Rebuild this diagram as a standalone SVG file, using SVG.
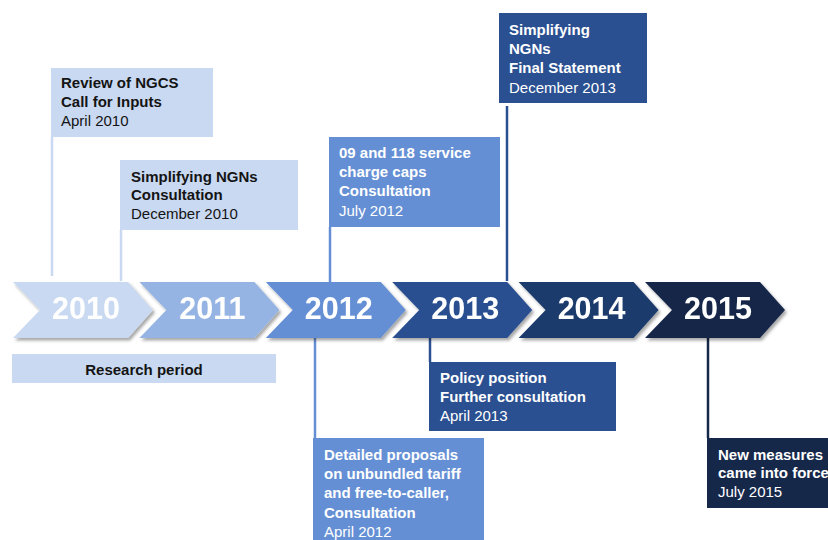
<svg xmlns="http://www.w3.org/2000/svg" xmlns:xlink="http://www.w3.org/1999/xlink" width="828" height="540" viewBox="0 0 828 540">
<style>
  text { font-family: "Liberation Sans", Arial, sans-serif; font-size: 15px; letter-spacing: 0; }
  .b { font-weight: bold; }
  .dk { fill: #141414; }
  .wt { fill: #ffffff; }
  .yr { font-size: 30.5px; font-weight: bold; fill: #ffffff; text-anchor: middle; }
  .c1 { fill: #C9D9F1; }
  .c2 { fill: #95B4E3; }
  .c3 { fill: #658FD4; }
  .c4 { fill: #2A5091; }
  .c5 { fill: #1E3B6D; }
  .c6 { fill: #16284A; }
  .ln { fill: none; stroke-width: 2.5; }
</style>
<defs>
  <path id="chev" d="M0,282 L115,282 L140,310 L115,338 L0,338 L27,310 Z"/>
  <filter id="sh" x="-10%" y="-20%" width="130%" height="150%">
    <feDropShadow dx="2" dy="2.5" stdDeviation="1.5" flood-color="#000" flood-opacity="0.35"/>
  </filter>
</defs>
<rect width="828" height="540" fill="#ffffff"/>

<g id="connectors">
  <line class="ln" x1="52" y1="137" x2="52" y2="276" stroke="#C9D9F1"/>
  <line class="ln" x1="121" y1="230" x2="121" y2="281" stroke="#C9D9F1"/>
  <line class="ln" x1="330" y1="227" x2="330" y2="282" stroke="#658FD4"/>
  <line class="ln" x1="507" y1="106" x2="507" y2="281" stroke="#2A5091"/>
  <line class="ln" x1="430" y1="338" x2="430" y2="362" stroke="#2A5091"/>
  <line class="ln" x1="315" y1="338" x2="315" y2="438" stroke="#658FD4"/>
  <line class="ln" x1="708" y1="338" x2="708" y2="438" stroke="#16284A"/>
</g>

<g id="timeline" filter="url(#sh)">
  <g id="y2010"><use xlink:href="#chev" x="13" class="c1"/><text class="yr" x="86" y="319">2010</text></g>
  <g id="y2011"><use xlink:href="#chev" x="139.4" class="c2"/><text class="yr" x="212.4" y="319">2011</text></g>
  <g id="y2012"><use xlink:href="#chev" x="265.8" class="c3"/><text class="yr" x="338.8" y="319">2012</text></g>
  <g id="y2013"><use xlink:href="#chev" x="392.2" class="c4"/><text class="yr" x="465.2" y="319">2013</text></g>
  <g id="y2014"><use xlink:href="#chev" x="518.6" class="c5"/><text class="yr" x="591.6" y="319">2014</text></g>
  <g id="y2015"><use xlink:href="#chev" x="645" class="c6"/><text class="yr" x="718" y="319">2015</text></g>
</g>

<g id="research">
  <rect class="c1" x="12" y="354" width="264" height="29"/>
  <text class="b dk" x="144" y="375" text-anchor="middle">Research period</text>
</g>

<g id="n1">
  <rect class="c1" x="51" y="68" width="162" height="69"/>
  <text class="dk" x="61" y="88"><tspan class="b">Review of NGCS</tspan><tspan class="b" x="61" y="107">Call for Inputs</tspan><tspan x="61" y="126">April 2010</tspan></text>
</g>

<g id="n2">
  <rect class="c1" x="120" y="160" width="178" height="70"/>
  <text class="dk" x="131" y="182"><tspan class="b">Simplifying NGNs</tspan><tspan class="b" x="131" y="200">Consultation</tspan><tspan x="131" y="219">December 2010</tspan></text>
</g>

<g id="n3">
  <rect class="c3" x="329" y="137" width="171" height="90"/>
  <text class="wt" x="339" y="158"><tspan class="b">09 and 118 service</tspan><tspan class="b" x="339" y="177">charge caps</tspan><tspan class="b" x="339" y="196">Consultation</tspan><tspan x="339" y="216">July 2012</tspan></text>
</g>

<g id="n4">
  <rect class="c4" x="499" y="13" width="148" height="90"/>
  <text class="wt" x="509" y="35"><tspan class="b">Simplifying</tspan><tspan class="b" x="509" y="54">NGNs</tspan><tspan class="b" x="509" y="73">Final Statement</tspan><tspan x="509" y="93">December 2013</tspan></text>
</g>

<g id="n5">
  <rect class="c4" x="429" y="362" width="187" height="69"/>
  <text class="wt" x="440" y="383"><tspan class="b">Policy position</tspan><tspan class="b" x="440" y="402">Further consultation</tspan><tspan x="440" y="421">April 2013</tspan></text>
</g>

<g id="n6">
  <rect class="c3" x="313" y="438" width="171" height="102"/>
  <text class="wt" x="324" y="460"><tspan class="b">Detailed proposals</tspan><tspan class="b" x="324" y="479">on unbundled tariff</tspan><tspan class="b" x="324" y="498">and free-to-caller,</tspan><tspan class="b" x="324" y="518">Consultation</tspan><tspan x="324" y="537">April 2012</tspan></text>
</g>

<g id="n7">
  <rect class="c6" x="707" y="438" width="121" height="70"/>
  <text class="wt" x="718" y="460"><tspan class="b">New measures</tspan><tspan class="b" x="718" y="478">came into force</tspan><tspan x="718" y="497">July 2015</tspan></text>
</g>
</svg>
